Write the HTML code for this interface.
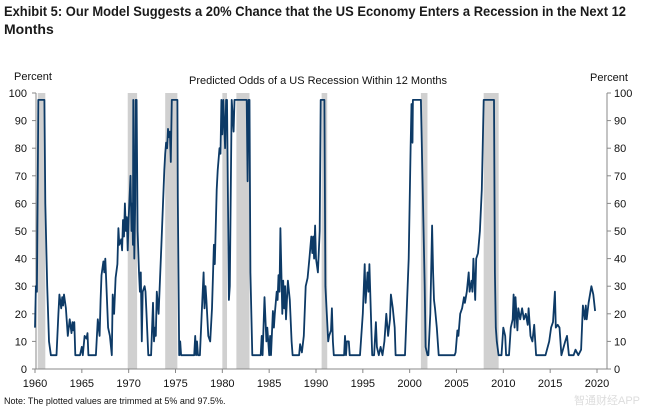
<!DOCTYPE html>
<html><head><meta charset="utf-8"><style>
body{margin:0;background:#fff;}
svg{display:block;font-family:"Liberation Sans",Arial,sans-serif;}
</style></head><body>
<svg id="chart" width="645" height="411">
<text x="4" y="16" font-size="14" font-weight="bold" fill="#1a1a1a" textLength="622" lengthAdjust="spacingAndGlyphs">Exhibit 5: Our Model Suggests a 20% Chance that the US Economy Enters a Recession in the Next 12</text>
<text x="4" y="34" font-size="14" font-weight="bold" fill="#1a1a1a">Months</text>
<text x="14" y="80" font-size="11" fill="#111">Percent</text>
<text x="590" y="81" font-size="11" fill="#111">Percent</text>
<text x="318" y="84" font-size="11" text-anchor="middle" fill="#111">Predicted Odds of a US Recession  Within 12 Months</text>
<text x="4" y="404" font-size="9" fill="#111">Note: The plotted values are trimmed at 5% and 97.5%.</text>
<g id="rec"></g><g id="axes"></g><g id="line"></g>
<text x="640" y="404" font-size="11" text-anchor="end" fill="#ddd">智通财经APP</text>
</svg>
<script>
const recStarts=[1960.3,1969.9,1973.9,1980.0,1981.5,1990.6,2001.2,2007.9];
const recEnds=[1961.1,1970.9,1975.2,1980.5,1982.9,1991.2,2001.9,2009.5];
const yTicks=[0,10,20,30,40,50,60,70,80,90,100];
const xTicks=[1960,1965,1970,1975,1980,1985,1990,1995,2000,2005,2010,2015,2020];
const years=[1960.0,1960.1,1960.2,1960.3,1960.35,1961.0,1961.1,1961.3,1961.5,1961.7,1962.3,1962.5,1962.6,1962.8,1962.9,1963.0,1963.1,1963.3,1963.5,1963.7,1963.9,1964.0,1964.1,1964.2,1964.3,1964.8,1965.0,1965.1,1965.3,1965.5,1965.6,1965.7,1966.5,1966.7,1966.9,1967.0,1967.1,1967.3,1967.4,1967.5,1967.6,1967.8,1968.0,1968.2,1968.3,1968.45,1968.6,1968.8,1968.9,1969.0,1969.2,1969.3,1969.4,1969.5,1969.6,1969.7,1969.8,1969.9,1970.0,1970.2,1970.3,1970.4,1970.45,1970.5,1970.6,1970.7,1970.75,1970.85,1970.95,1971.1,1971.2,1971.3,1971.4,1971.5,1971.7,1971.8,1971.9,1972.1,1972.4,1972.6,1972.7,1972.8,1972.9,1973.0,1973.2,1973.5,1973.8,1973.9,1974.0,1974.1,1974.2,1974.3,1974.4,1974.5,1974.6,1975.2,1975.25,1975.4,1975.5,1975.6,1977.0,1977.1,1977.2,1977.3,1977.4,1977.6,1977.8,1978.0,1978.1,1978.2,1978.3,1978.5,1978.7,1978.9,1979.1,1979.2,1979.4,1979.5,1979.7,1979.8,1979.9,1980.0,1980.1,1980.3,1980.4,1980.5,1980.7,1980.8,1981.0,1981.2,1981.3,1982.6,1982.7,1982.8,1982.9,1983.0,1983.2,1984.1,1984.2,1984.3,1984.5,1984.7,1984.8,1985.0,1985.1,1985.2,1985.4,1985.5,1985.6,1985.8,1985.9,1986.0,1986.1,1986.2,1986.4,1986.5,1986.6,1986.7,1986.8,1987.0,1987.2,1987.4,1987.5,1988.2,1988.3,1988.5,1988.7,1988.9,1989.1,1989.3,1989.5,1989.6,1989.7,1989.8,1989.9,1990.0,1990.2,1990.4,1990.5,1990.9,1991.0,1991.3,1991.4,1991.6,1991.7,1991.8,1991.9,1993.0,1993.1,1993.2,1993.3,1993.5,1993.6,1994.7,1995.0,1995.2,1995.3,1995.5,1995.6,1995.7,1995.9,1996.0,1996.2,1996.4,1996.5,1996.7,1996.9,1997.1,1997.3,1997.5,1997.7,1997.9,1998.0,1998.2,1998.4,1998.5,1999.5,1999.9,2000.1,2000.2,2000.3,2000.35,2001.2,2001.6,2001.7,2001.9,2002.0,2002.2,2002.4,2002.5,2002.6,2002.7,2002.9,2003.1,2004.8,2004.9,2005.1,2005.2,2005.4,2005.6,2005.8,2005.9,2006.1,2006.3,2006.4,2006.6,2006.7,2006.8,2007.0,2007.1,2007.3,2007.5,2007.7,2007.9,2009.0,2009.1,2009.2,2009.3,2009.5,2009.8,2010.0,2010.2,2010.3,2010.6,2010.8,2011.0,2011.1,2011.2,2011.3,2011.4,2011.5,2011.6,2011.8,2012.0,2012.2,2012.4,2012.6,2012.7,2012.9,2013.1,2013.3,2013.5,2013.7,2014.5,2014.9,2015.1,2015.3,2015.5,2015.6,2015.8,2016.0,2016.2,2016.6,2016.8,2017.0,2017.5,2017.7,2018.0,2018.3,2018.5,2018.7,2018.8,2018.9,2019.1,2019.4,2019.6,2019.8];
const odds=[15,30,28,70,97.5,97.5,60,30,10,5,5,20,27,22,26,23,27,22,12,18,13,17,14,17,5,5,8,5,12,11,13,5,5,18,12,25,34,39,35,40,32,15,12,5,27,20,33,38,51,45,47,43,54,48,60,50,55,43,55,70,50,60,45,97.5,40,60,97.5,97.5,50,35,28,35,10,28,30,28,20,5,5,24,10,15,12,28,20,45,72,78,82,80,87,84,86,75,97.5,97.5,62,5,10,5,5,12,5,10,5,5,20,35,22,30,25,12,10,22,45,38,65,72,80,78,97.5,85,97.5,80,97.5,97.5,25,30,97.5,86,97.5,97.5,68,97.5,97.5,35,5,5,12,5,26,10,15,5,12,5,21,15,20,28,25,34,28,51,20,32,22,30,18,32,25,10,5,5,9,6,12,30,33,40,48,42,48,40,52,40,35,50,97.5,97.5,30,10,12,14,22,10,5,5,12,5,10,10,5,5,20,38,24,35,28,38,15,5,5,17,8,5,8,5,10,20,12,18,27,22,15,5,5,40,80,96,82,97.5,97.5,30,8,5,5,20,52,35,25,22,15,5,5,6,14,12,20,22,26,24,28,35,28,32,28,40,25,40,42,50,65,97.5,97.5,35,15,10,5,5,15,12,5,5,15,18,27,15,26,20,14,22,18,22,18,20,16,22,12,10,16,5,5,5,10,15,17,28,15,16,15,5,10,12,5,5,7,5,7,23,18,23,18,24,30,27,21];
const NS='http://www.w3.org/2000/svg';
const X0=35,X1=597,Y0=369,Y1=93;
function xs(y){return X0+(y-1960)/60*(X1-X0);}
function ys(v){return Y0-v/100*(Y0-Y1);}
function mk(t,a,p){const e=document.createElementNS(NS,t);for(const k in a)e.setAttribute(k,a[k]);p.appendChild(e);return e;}
const rec=document.getElementById('rec'),ax=document.getElementById('axes'),ln=document.getElementById('line');
recStarts.forEach((s,i)=>{
  const r=mk('rect',{x:xs(s),y:Y1,width:xs(recEnds[i])-xs(s),height:Y0-Y1,fill:'#d0d0d0'},rec);
  
  
});
const la=mk('line',{x1:36,y1:Y1,x2:36,y2:Y0,stroke:'#888'},ax);


const ra=mk('line',{x1:607,y1:Y1,x2:607,y2:Y0,stroke:'#888'},ax);


const xa=mk('line',{x1:36,y1:Y0,x2:607,y2:Y0,stroke:'#888'},ax);


yTicks.forEach(v=>{
  const y=ys(v);
  mk('line',{x1:32,y1:y,x2:36,y2:y,stroke:'#888'},ax);
  mk('line',{x1:607,y1:y,x2:611,y2:y,stroke:'#888'},ax);
  const t=mk('text',{x:27,y:y+4,'font-size':11,'text-anchor':'end',fill:'#111'},ax);t.textContent=v;
  
  
  const t2=mk('text',{x:614,y:y+4,'font-size':11,fill:'#111'},ax);t2.textContent=v;
  
  
});
xTicks.forEach(v=>{
  const x=xs(v);
  mk('line',{x1:x,y1:Y0,x2:x,y2:Y0+4,stroke:'#888'},ax);
  const t=mk('text',{x:x,y:387,'font-size':11,'text-anchor':'middle',fill:'#111'},ax);t.textContent=v;
  
  
});
const p=mk('polyline',{points:years.map((y,i)=>xs(y).toFixed(1)+','+ys(odds[i]).toFixed(1)).join(' '),fill:'none',stroke:'#0d3a66','stroke-width':1.8,'stroke-linejoin':'round'},ln);


</script>
</body></html>
